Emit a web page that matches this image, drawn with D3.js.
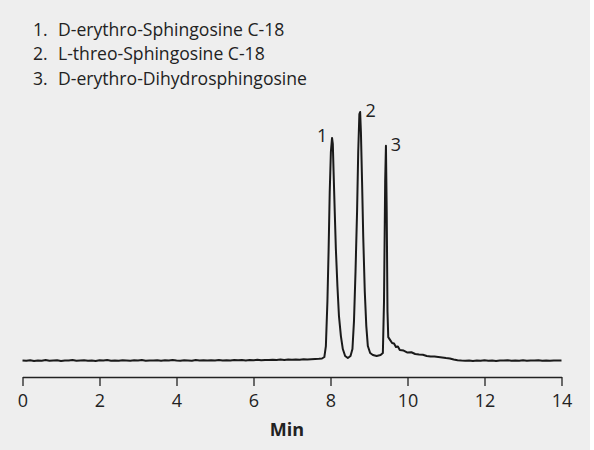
<!DOCTYPE html>
<html><head><meta charset="utf-8">
<script src="https://cdn.jsdelivr.net/npm/d3@7"></script>
<style>html,body{margin:0;padding:0;background:#fff;}svg{display:block;}</style>
</head><body>
<script>
// Legend entries
const legendItems = ["D-erythro-Sphingosine C-18", "L-threo-Sphingosine C-18", "D-erythro-Dihydrosphingosine"];
// X-axis ticks (min)
const xTicks = [0, 2, 4, 6, 8, 10, 12, 14];
// Peak labels: [label, retention time, height]
const peakLabels = ["1", "2", "3"];
const peakTimes = [8.04, 8.76, 9.44];
const peakHeights = [224, 250, 216];
// Chromatogram trace: times (min) and detector signal (arbitrary units)
const baseTimesA = [0,0.1,0.2,0.3,0.4,0.5,0.6,0.7,0.8,0.9,1.0,1.1,1.2,1.3,1.4,1.5,1.6,1.7,1.8,1.9,2.0,2.1,2.2,2.3,2.4,2.5,2.6,2.7,2.8,2.9,3.0,3.1,3.2,3.3,3.4,3.5,3.6,3.7,3.8,3.9,4.0,4.1,4.2,4.3,4.4,4.5,4.6,4.7,4.8,4.9,5.0,5.1,5.2,5.3,5.4,5.5,5.6,5.7,5.8,5.9,6.0,6.1,6.2,6.3,6.4,6.5,6.6,6.7,6.8,6.9,7.0,7.1,7.2,7.3,7.4,7.5];
const baseValsA  = [0.5,0.2,0.8,0.1,0.6,0.3,0.9,0.2,0.5,0.7,0.1,0.6,0.4,0.9,0.2,0.5,0.8,0.3,0.6,0.1,0.7,0.4,0.9,0.3,0.5,0.2,0.8,0.6,0.3,0.7,0.4,0.9,0.2,0.6,0.5,0.8,0.3,0.7,0.4,1.0,0.5,0.2,0.8,0.6,0.3,0.9,0.5,0.7,0.4,0.8,0.6,1.0,0.5,0.8,0.4,0.9,0.7,1.1,0.6,0.9,0.8,1.2,0.7,1.0,0.9,1.3,1.0,1.4,1.1,1.5,1.2,1.6,1.3,1.7,1.5,1.8];
const peakTimesTrace = [7.6,7.7,7.78,7.84,7.88,7.92,7.95,7.98,8.01,8.04,8.06,8.08,8.11,8.14,8.18,8.22,8.27,8.32,8.38,8.45,8.52,8.57,8.61,8.65,8.69,8.72,8.75,8.77,8.79,8.82,8.85,8.89,8.93,8.97,9.03,9.1,9.2,9.3,9.36,9.39,9.42,9.44,9.46,9.48,9.5,9.55,9.6,9.65,9.7,9.75,9.8,9.9,10.0,10.1,10.2,10.3,10.4,10.5,10.6,10.7,10.8,10.9,11.0,11.1,11.2,11.3,11.4];
const peakValsTrace  = [2.0,2.2,2.5,4,15,60,110,170,210,224,218,190,150,112,75,45,25,12,5,3,5,12,40,90,150,210,248,250,230,180,125,70,35,15,8,6,5,6,8,60,180,216,150,50,24,21,18,17.5,14,14.5,11,10.5,8.5,8.8,7,6.5,6.2,5,4.5,4.4,4,3.6,3,2.5,1.5,0.8,0.4];
const baseTimesB = [11.5,11.6,11.7,11.8,11.9,12.0,12.1,12.2,12.3,12.4,12.5,12.6,12.7,12.8,12.9,13.0,13.1,13.2,13.3,13.4,13.5,13.6,13.7,13.8,13.9,14.0];
const baseValsB  = [0.3,0.6,0.1,0.5,0.2,0.7,0.3,0.5,0.1,0.6,0.4,0.8,0.2,0.5,0.3,0.7,0.2,0.6,0.4,0.8,0.3,0.5,0.2,0.6,0.4,0.5];

const W = 594, H = 450;
const svg = d3.select("body").append("svg").attr("width", W).attr("height", H);
svg.append("rect").attr("x",0).attr("y",0).attr("width",590).attr("height",H).attr("fill","#eeeeee");

const x = d3.scaleLinear().domain([0, 14]).range([22.5, 561.5]);
const y = d3.scaleLinear().domain([0, 250]).range([361, 112]);

const times = baseTimesA.concat(peakTimesTrace, baseTimesB);
const vals = baseValsA.concat(peakValsTrace, baseValsB);
const trace = times.map((t, i) => [t, vals[i]]);

svg.append("path").datum(trace)
  .attr("fill","none").attr("stroke","#1a1a1a").attr("stroke-width",2).attr("stroke-linejoin","round")
  .attr("d", d3.line().x(d => x(d[0])).y(d => y(d[1])));

// Axis
const ax = svg.append("g").attr("transform","translate(0,377)")
  .call(d3.axisBottom(x).tickValues(xTicks).tickSize(9).tickSizeOuter(0).tickPadding(8));
ax.select(".domain").attr("stroke","#222").attr("stroke-width",1.3);
ax.selectAll(".tick line").attr("stroke","#222").attr("stroke-width",1.3);
ax.selectAll(".tick text").attr("font-family","'Open Sans', sans-serif").attr("font-size",18).attr("fill","#222");

svg.append("text").attr("x", 287).attr("y", 436).attr("text-anchor","middle")
  .attr("font-family","'Open Sans', sans-serif").attr("font-weight","bold").attr("font-size",18).attr("fill","#222")
  .text("Min");

// Legend
const lg = svg.append("g");
legendItems.forEach((s, i) => {
  lg.append("text").attr("x", 33).attr("y", 35.5 + i*24.5)
    .attr("font-family","'Open Sans', sans-serif").attr("font-size",17.6).attr("fill","#222").text((i+1) + ".");
  lg.append("text").attr("x", 58).attr("y", 35.5 + i*24.5)
    .attr("font-family","'Open Sans', sans-serif").attr("font-size",17.6).attr("fill","#222").text(s);
});

// Peak labels
const labelDx = [-10, 11, 10];
const labelDy = [4, 5, 5];
peakLabels.forEach((l, i) => {
  svg.append("text").attr("x", x(peakTimes[i]) + labelDx[i]).attr("y", y(peakHeights[i]) + labelDy[i])
    .attr("text-anchor","middle")
    .attr("font-family","'Open Sans', sans-serif").attr("font-size",18).attr("fill","#222").text(l);
});
</script>
</body></html>
